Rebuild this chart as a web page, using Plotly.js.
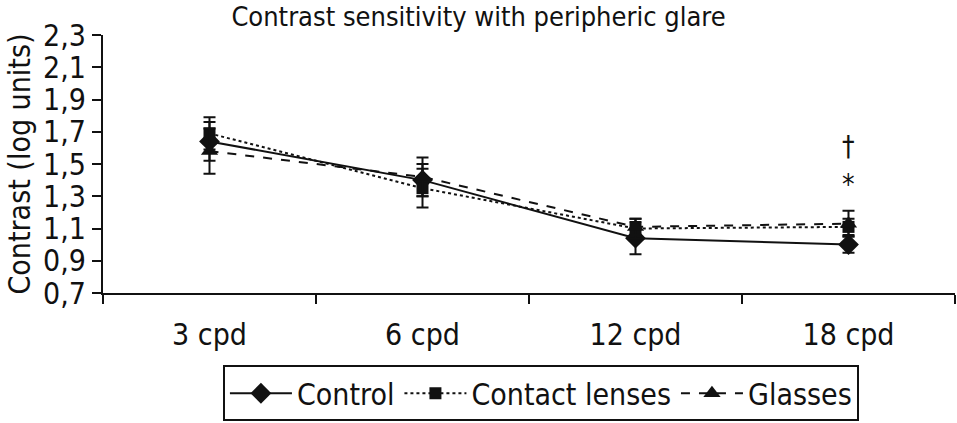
<!DOCTYPE html>
<html>
<head>
<meta charset="utf-8">
<script src="https://cdn.plot.ly/plotly-3.0.1.min.js"></script>
<style>
  html, body { margin: 0; padding: 0; background: #fff; }
  #chart { width: 957px; height: 423px; }
</style>
</head>
<body>
<div id="chart"></div>
<script>
const categories = ["3 cpd", "6 cpd", "12 cpd", "18 cpd"];

const controlValues = [1.64, 1.40, 1.04, 1.00];
const controlErrors = [0.12, 0.10, 0.10, 0.05];

const contactValues = [1.69, 1.35, 1.10, 1.11];
const contactErrors = [0.10, 0.12, 0.06, 0.05];

const glassesValues = [1.58, 1.42, 1.11, 1.13];
const glassesErrors = [0.14, 0.12, 0.05, 0.08];

const yTicks = [0.7, 0.9, 1.1, 1.3, 1.5, 1.7, 1.9, 2.1, 2.3];

const marks = [
  { x: "18 cpd", y: 1.61, text: "†" },
  { x: "18 cpd", y: 1.37, text: "*" },
];

const FONT = "'Liberation Sans Narrow', 'DejaVu Sans Condensed', 'Arial Narrow', sans-serif";
const INK = "#111";

function series(name, values, errors, symbol, size, dash) {
  return {
    x: categories,
    y: values,
    name: name,
    type: "scatter",
    mode: "lines+markers",
    line: { color: INK, width: 2, dash: dash },
    marker: { symbol: symbol, size: size, color: INK },
    error_y: {
      type: "data",
      array: errors,
      visible: true,
      color: INK,
      thickness: 2,
      width: 6,
    },
  };
}

const data = [
  series("Control", controlValues, controlErrors, "diamond", 16, "solid"),
  series("Contact lenses", contactValues, contactErrors, "square", 12, "dot"),
  series("Glasses", glassesValues, glassesErrors, "triangle-up", 15, "dash"),
];

const layout = {
  width: 957,
  height: 423,
  margin: { l: 103, r: 2, t: 35, b: 130 },
  paper_bgcolor: "#fff",
  plot_bgcolor: "#fff",
  separators: ",.",
  font: { family: FONT, size: 28, color: INK },
  showlegend: true,
  title: {
    text: "Contrast sensitivity with peripheric glare",
    font: { family: FONT, size: 27, color: INK },
    xref: "container",
    x: 0.5,
    xanchor: "center",
    yref: "container",
    y: 0.96,
    yanchor: "middle",
  },
  xaxis: {
    type: "category",
    range: [-0.5, 3.5],
    showgrid: false,
    zeroline: false,
    showline: true,
    linecolor: INK,
    linewidth: 2,
    ticks: "outside",
    tickson: "boundaries",
    ticklen: 9,
    tickwidth: 2,
    tickcolor: INK,
    ticklabelstandoff: 14,
    tickfont: { family: FONT, size: 30, color: INK },
  },
  yaxis: {
    range: [0.7, 2.3],
    tickvals: yTicks,
    tickformat: ".1f",
    showgrid: false,
    zeroline: false,
    showline: true,
    linecolor: INK,
    linewidth: 2,
    ticks: "outside",
    ticklen: 9,
    tickwidth: 2,
    tickcolor: INK,
    tickfont: { family: FONT, size: 30, color: INK },
    title: {
      text: "Contrast (log units)",
      font: { family: FONT, size: 30, color: INK },
      standoff: 4,
    },
  },
  legend: {
    orientation: "h",
    x: 0.514,
    xanchor: "center",
    y: -0.28,
    yanchor: "top",
    bordercolor: INK,
    borderwidth: 2,
    bgcolor: "#fff",
    font: { family: FONT, size: 30, color: INK },
    itemwidth: 62,
    tracegroupgap: 0,
  },
  annotations: marks.map((m) => ({
    x: m.x,
    y: m.y,
    xref: "x",
    yref: "y",
    text: m.text,
    showarrow: false,
    font: { family: FONT, size: 28, color: INK },
  })),
};

Plotly.newPlot("chart", data, layout, { staticPlot: true, displayModeBar: false });
</script>
</body>
</html>
